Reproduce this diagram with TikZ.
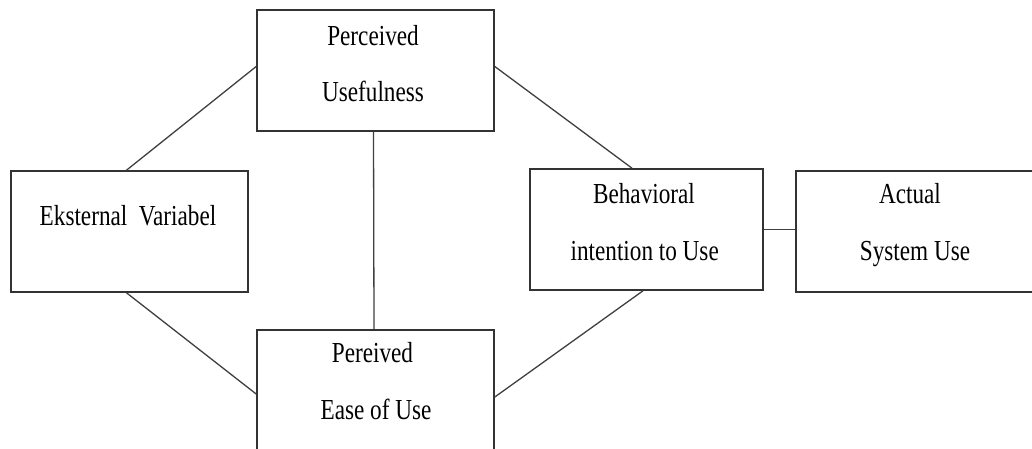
\documentclass[tikz,border=0pt]{standalone}
\usepackage{fontspec}
\setmainfont{Liberation Serif}[FakeStretch=0.8]
\usetikzlibrary{calc}
\begin{document}
\begin{tikzpicture}[x=1pt,y=-1pt,
  box/.style={draw=black!80, line width=1.6pt, rectangle, inner sep=0pt},
  link/.style={draw=black!75, line width=1.3pt},
  lbl/.style={anchor=base, inner sep=0pt, font=\fontsize{29}{34}\selectfont, text=black}]
\useasboundingbox (0,0) rectangle (1032,448);
\clip (0,0) rectangle (1032,448);
\fill[white] (0,0) rectangle (1032,448);
% boxes
\node[box, minimum width=237pt, minimum height=121pt] (pu) at (375.5,70.5) {};
\node[box, minimum width=237pt, minimum height=121pt] (ev) at (129.5,231.5) {};
\node[box, minimum width=237pt, minimum height=128pt] (peou) at (375.5,394) {};
\node[box, minimum width=233pt, minimum height=121pt] (bi) at (646.5,229.5) {};
\node[box, minimum width=244pt, minimum height=121pt] (as) at (918,231.5) {};
% labels
\node[lbl] (pu1) at (373,45) {Perceived};
\node[lbl] (pu2) at (373,101.7) {Usefulness};
\node[lbl] (ev1) at (128,225) {Eksternal\ \ Variabel};
\node[lbl] (pe1) at (372.5,362) {Pereived};
\node[lbl] (pe2) at (376,419) {Ease of Use};
\node[lbl] (bi1) at (644,203) {Behavioral};
\node[lbl] (bi2) at (644.7,260) {intention to Use};
\node[lbl] (as1) at (910,203) {Actual};
\node[lbl] (as2) at (915,260) {System Use};
% connectors
\draw[link] ($(ev.north)+(-3,0)$) -- ($(pu.west)+(0,-4)$);
\draw[link] ($(ev.south)+(-3,0)$) -- (peou.west);
\draw[link] ($(pu.south)+(-2,0)$) -- ($(peou.north)+(-1.5,0)$);
\draw[link] ($(pu.east)+(0,-4)$) -- ($(bi.north)+(-14.5,0)$);
\draw[link] ($(bi.south)+(-3.5,0)$) -- ($(peou.east)+(0,3)$);
\draw[link] (bi.east) -- (bi.east -| as.west);
\end{tikzpicture}
\end{document}
